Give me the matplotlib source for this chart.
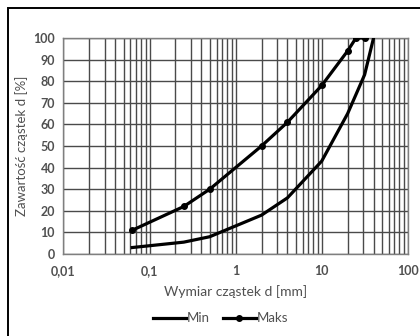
import matplotlib.pyplot as plt
import matplotlib.ticker as mticker
from matplotlib.patches import Rectangle
import numpy as np

plt.rcParams['font.family'] = ['Lato', 'DejaVu Sans']

# krzywe uziarnienia - granice obszaru
d_min = [0.063, 0.25, 0.5, 2, 4, 10, 20, 31.5, 40]
p_min = [3, 5.5, 8, 18, 26, 43, 65, 83, 100]
d_maks = [0.063, 0.25, 0.5, 2, 4, 10, 20, 25, 31.5]
p_maks = [11, 22, 30, 50, 61, 78, 94, 100, 100]

xticks = [0.01, 0.1, 1, 10, 100]
xlabels = ["0,01", "0,1", "1", "10", "100"]
yticks = list(range(0, 101, 10))

txt = '#505050'
grid = '#4a4a4a'

fig = plt.figure(figsize=(4.2, 3.36), dpi=100)
ax = fig.add_axes([0.151, 0.244, 0.820, 0.643])

ax.plot(d_min, p_min, color='black', lw=2.3, label='Min', zorder=3,
        solid_joinstyle='round')
ax.plot(d_maks, p_maks, color='black', lw=2.3, marker='o', ms=4, label='Maks',
        zorder=3, solid_joinstyle='round')

ax.set_xscale('log')
ax.set_xlim(0.01, 100)
ax.set_ylim(0, 100)
ax.set_xticks(xticks)
ax.set_xticklabels(xlabels)
ax.xaxis.set_minor_locator(mticker.LogLocator(base=10, subs=np.arange(2, 10)))
ax.xaxis.set_minor_formatter(mticker.NullFormatter())
ax.set_yticks(yticks)

ax.grid(True, which='major', color=grid, lw=1.0)
ax.grid(True, which='minor', axis='x', color=grid, lw=1.0)
ax.tick_params(which='both', length=0, labelsize=9, labelcolor=txt)
ax.tick_params(axis='x', pad=8)
ax.tick_params(axis='y', pad=6)
for lab in ax.get_xticklabels() + ax.get_yticklabels():
    lab.set_fontweight('bold')
for s in ax.spines.values():
    s.set_color('#7f7f7f')
    s.set_linewidth(1.0)

ax.set_xlabel('Wymiar cząstek d [mm]', fontsize=10, color=txt, labelpad=6)
ax.set_ylabel('Zawartość cząstek d [%]', fontsize=9.5, color=txt, labelpad=4)

fig.legend(loc='center', bbox_to_anchor=(0.525, 0.053), ncol=2, frameon=False,
           fontsize=9.5, labelcolor=txt, handlelength=2.5, handletextpad=0.05,
           columnspacing=1.0)

# ramka wokół rysunku
fig.patches.append(Rectangle((8 / 420, -0.02), 1.0, 1 - 8 / 336 + 0.02,
                             transform=fig.transFigure, fill=False,
                             edgecolor='black', lw=1.4))

fig.savefig('out.png', dpi=100)
